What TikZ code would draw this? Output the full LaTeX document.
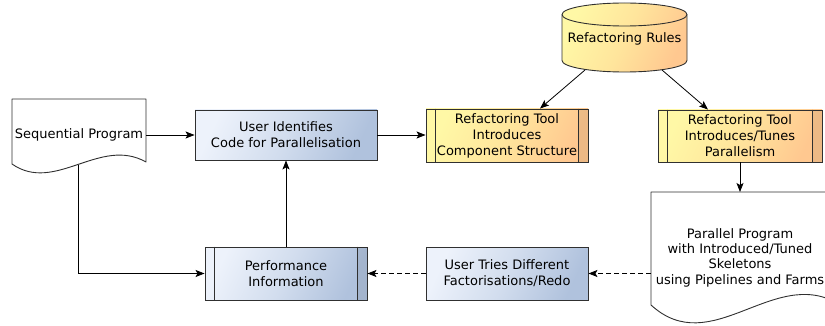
\documentclass[tikz,border=0pt]{standalone}
\usepackage{fontspec}
\setmainfont{DejaVu Sans}
\usetikzlibrary{arrows.meta}
\definecolor{blueL}{HTML}{EDF2FB}
\definecolor{blueM}{HTML}{D2DDEE}
\definecolor{blueD}{HTML}{B0C2DD}
\definecolor{yelL}{HTML}{FFF8A6}
\definecolor{yelM}{HTML}{FFE59C}
\definecolor{yelD}{HTML}{FFC890}
\definecolor{edge}{HTML}{303030}
\begin{document}
\begin{tikzpicture}[x=1pt,y=-1pt,
  font=\fontsize{13}{16}\selectfont,
  box/.style={draw=edge, line width=0.9pt, align=center, inner sep=0pt, rectangle},
  bluebox/.style={box, left color=blueL, right color=blueD, middle color=blueM, shading angle=65},
  yelbox/.style={box, left color=yelL, right color=yelD, middle color=yelM, shading angle=65},
  docshape/.style={draw=edge, line width=0.9pt, fill=white, line join=round},
  txt/.style={align=center, inner sep=0pt},
  inner/.style={draw=edge, line width=0.9pt},
  strip/.style={fill=black, fill opacity=0.07},
  conn/.style={line width=0.8pt, -{Stealth[length=9pt,width=7pt,inset=2pt]}},
  dconn/.style={conn, dash pattern=on 5pt off 3pt}]
\useasboundingbox (0,0) rectangle (825,326);
\clip (0,0) rectangle (825,326);

% Sequential Program document
\draw[docshape] (12,99) -- (146,99) -- (146,162) .. controls (100,136) and (55,194) .. (12,164) -- cycle;
\node[txt, minimum width=134pt] (seq) at (79,135) {Sequential Program};
\coordinate (seqB) at (78,165);

% Parallel Program document
\draw[docshape] (651,192) -- (837,192) -- (837,303) .. controls (773,267) and (711,360) .. (651,305) -- cycle;
\node[txt, font=\fontsize{13}{15.3}\selectfont] (par) at (740,257.5)
  {Parallel Program\\with Introduced/Tuned\\Skeletons\\using Pipelines and Farms};
\coordinate (parTop) at (740,192);
\coordinate (parL) at (651,273.5);

% Refactoring Rules cylinder
\path[left color=yelL, right color=yelD, middle color=yelM, shading angle=65, draw=edge, line width=0.9pt]
  (562,14.5) -- (562,60.5) arc[start angle=180, end angle=360, x radius=62.5pt, y radius=11.5pt]
  -- (687,14.5) arc[start angle=0, end angle=180, x radius=62.5pt, y radius=11.5pt] -- cycle;
\draw[edge, line width=0.9pt] (562,14.5) arc[start angle=180, end angle=360, x radius=62.5pt, y radius=11.5pt];
\node[txt] (rules) at (624.5,38.5) {Refactoring Rules};
\coordinate (rulesL) at (585,70);
\coordinate (rulesR) at (662,70);

% Boxes
\node[bluebox, minimum width=182pt, minimum height=50pt] (ui) at (286,135) {User Identifies\\Code for Parallelisation};
\node[yelbox, minimum width=162pt, minimum height=53pt] (rc) at (507,135.5) {Refactoring Tool\\Introduces\\Component Structure};
\node[yelbox, minimum width=164pt, minimum height=52pt] (rp) at (740,136) {Refactoring Tool\\Introduces/Tunes\\Parallelism};
\node[bluebox, minimum width=162pt, minimum height=53pt] (perf) at (286,273.5) {Performance\\Information};
\node[bluebox, minimum width=162pt, minimum height=53pt] (ut) at (507,273.5) {User Tries Different\\Factorisations/Redo};

% inner lines of process boxes, darker right strip
\foreach \n in {rc,rp,perf}{
  \path[strip] ([xshift=-10pt,yshift=-0.45pt]\n.north east) rectangle ([xshift=-0.45pt,yshift=0.45pt]\n.south east);
  \draw[inner] ([xshift=10pt]\n.north west) -- ([xshift=10pt]\n.south west);
  \draw[inner] ([xshift=-10pt]\n.north east) -- ([xshift=-10pt]\n.south east);
}

% Connectors
\draw[conn] (seq.east) -- (ui.west);
\draw[conn] (ui.east) -- (ui.east -| rc.west);
\draw[conn] (rulesL) -- ([xshift=33pt]rc.north);
\draw[conn] (rulesR) -- ([xshift=-32pt]rp.north);
\draw[conn] (rp.south) -- (parTop);
\draw[dconn] (parL) -- (ut.east);
\draw[dconn] (ut.west) -- (perf.east);
\draw[conn] (seqB) |- (perf.west);
\draw[conn] (perf.north) -- (ui.south);
\end{tikzpicture}
\end{document}
